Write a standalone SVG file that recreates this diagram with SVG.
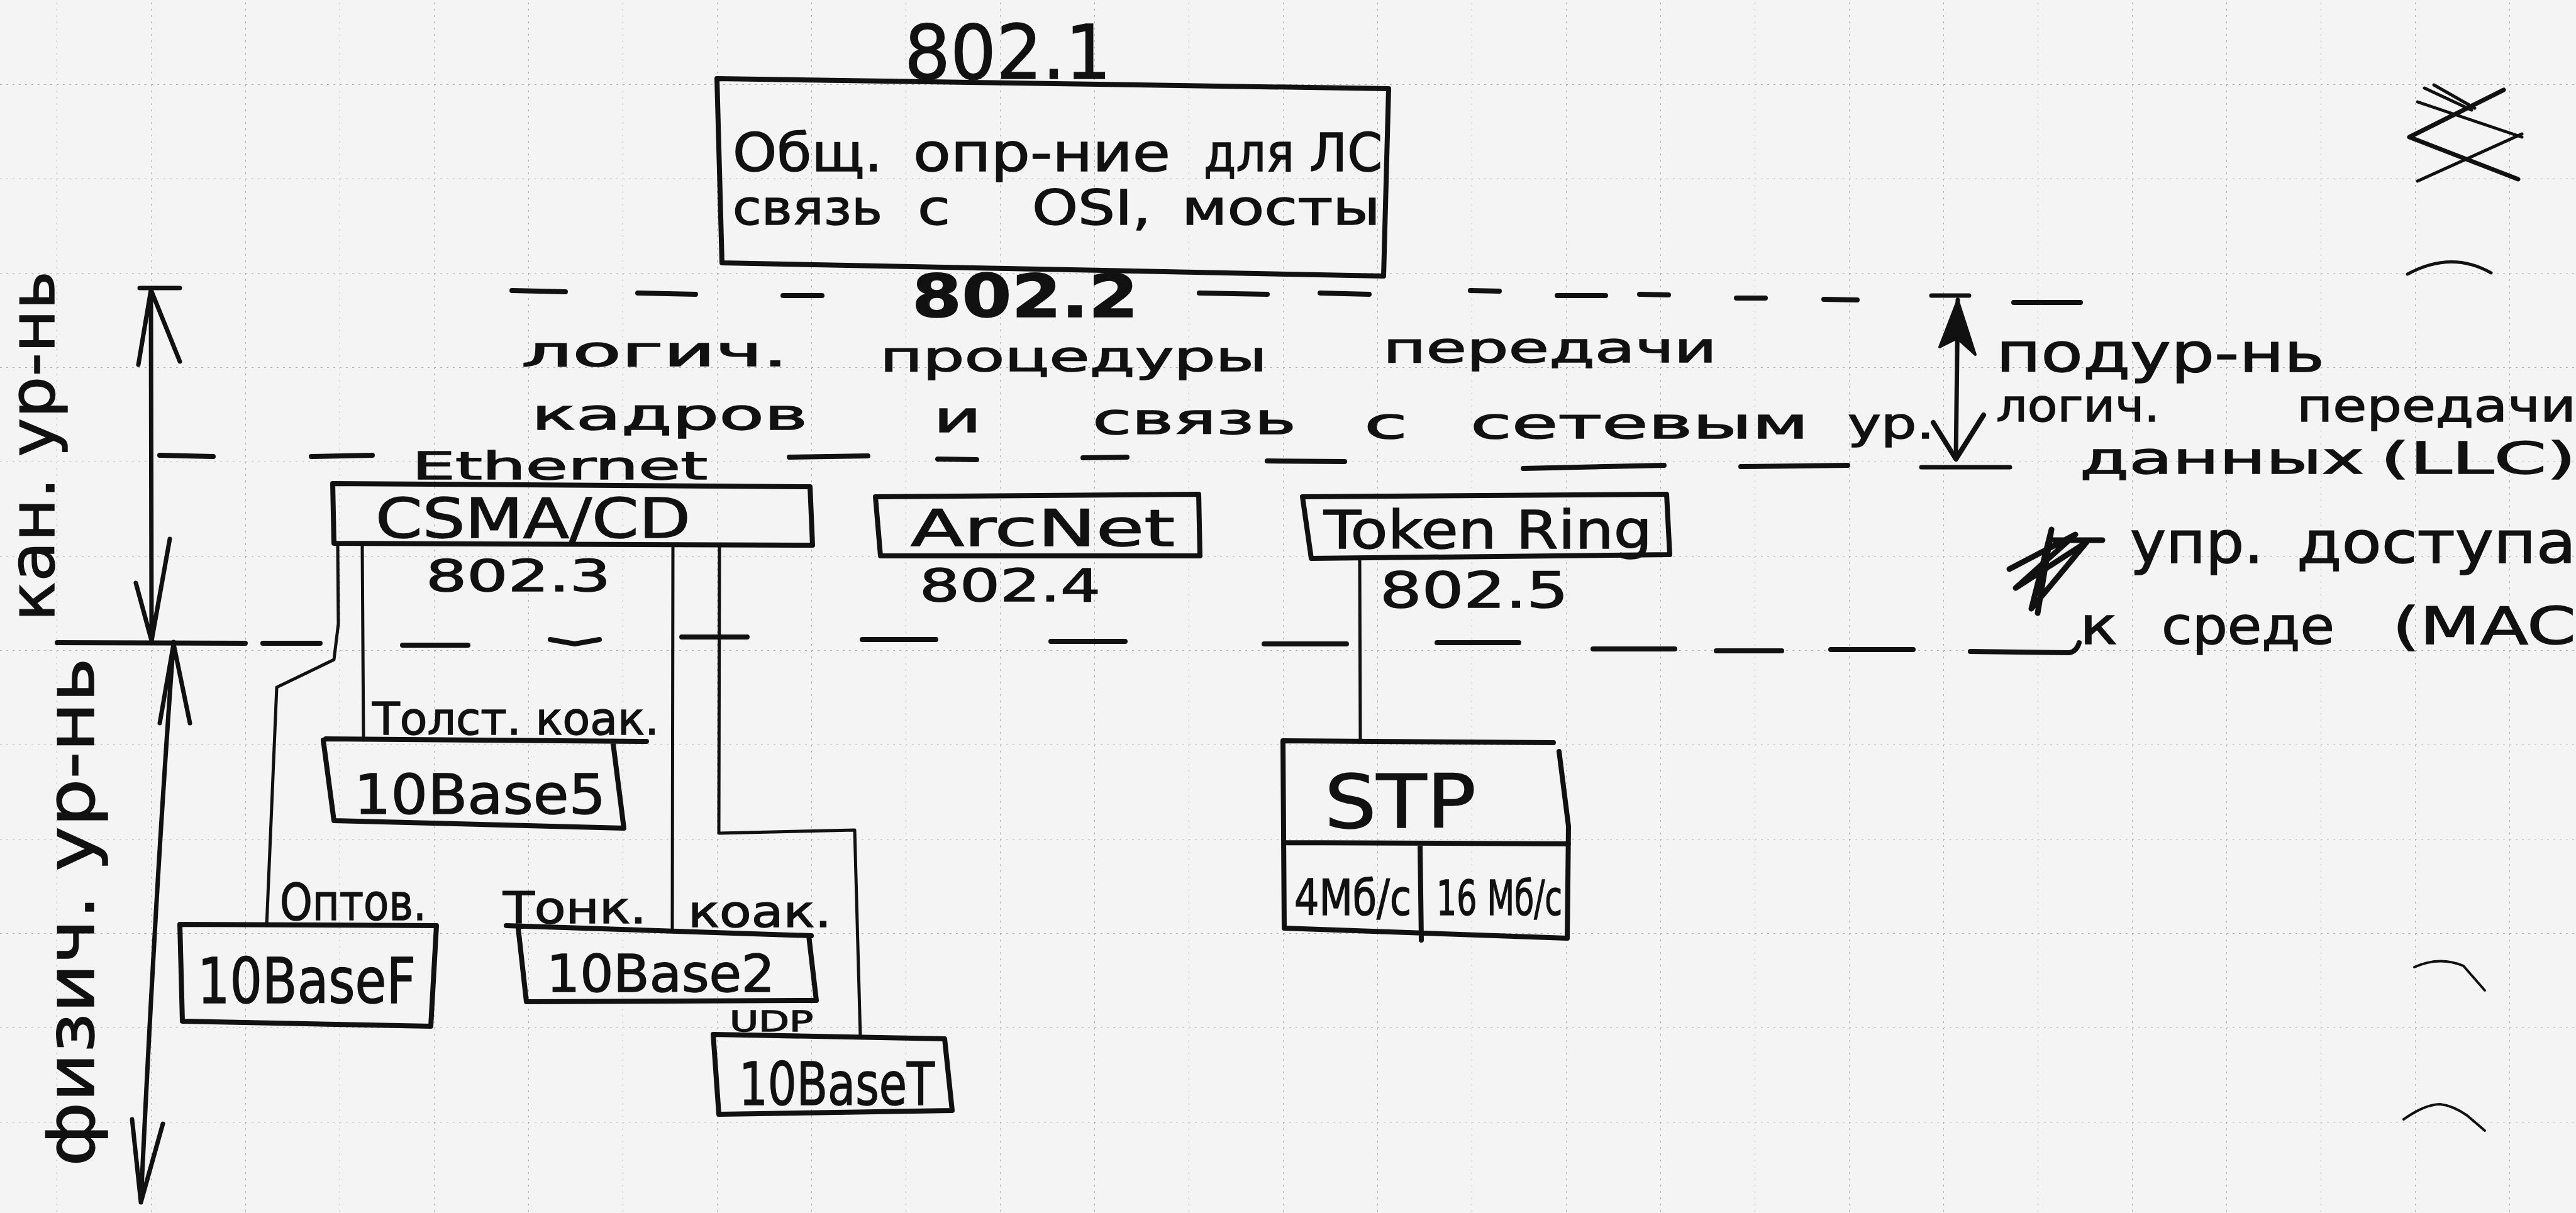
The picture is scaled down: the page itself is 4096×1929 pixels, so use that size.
<svg xmlns="http://www.w3.org/2000/svg" width="4096" height="1929" viewBox="0 0 4096 1929">
<defs>
<pattern id="grid" patternUnits="userSpaceOnUse" x="90" y="134" width="150" height="150">
<path d="M0,0 V150 M0,0 H150" fill="none" stroke="#adadad" stroke-width="2" stroke-dasharray="3 7"/>
</pattern>
</defs>
<style>
.ink{fill:none;stroke:#111;stroke-linecap:round;stroke-linejoin:round}
.box{stroke-width:8}
.ln{stroke-width:5}
.dash{stroke-width:8}
.arr{stroke-width:7}
.t{font-family:"DejaVu Sans","Liberation Sans",sans-serif;fill:#111;stroke:#111;stroke-width:1.5}
.b{font-weight:bold}
.solid{fill:#111;stroke:#111;stroke-width:4;stroke-linejoin:round}
</style>
<rect width="4096" height="1929" fill="#f4f4f4"/>
<rect width="4096" height="1929" fill="url(#grid)"/>

<g id="separators" class="ink dash">
<path d="M814,462 L899,464 M1014,466 L1106,468 M1245,470 L1307,470 M1907,466 L2015,468 M2099,466 L2177,468 M2338,462 L2384,463 M2476,470 L2553,470 M2607,468 L2653,469 M2761,474 L2807,474 M2900,476 L2953,477 M3202,481 L3308,481"/>
<path d="M254,724 L339,726 M495,726 L592,724 M1255,727 L1380,725 M1491,730 L1553,731 M1722,728 L1792,727 M2015,733 L2138,734 M2422,745 L2646,740 M2768,742 L2938,740"/>
<path d="M91,1022 L390,1023 M418,1023 L509,1023 M640,1026 L744,1026 M875,1017 L914,1024 L953,1017 M1084,1013 L1188,1013 M1371,1017 L1488,1017 M1671,1020 L1789,1020 M2010,1024 L2141,1024 M2285,1022 L2415,1022 M2533,1032 L2663,1032 M2729,1035 L2833,1035 M2911,1033 L3042,1033 M3133,1036 L3290,1038 Q3302,1036 3306,1022"/>
</g>

<g id="marks" class="ink">
<path class="arr" d="M3831,218 L3981,143 M3831,218 L4004,285"/>
<path stroke-width="5" d="M3844,162 L4010,218 M3844,288 L4010,213 M3855,140 L3930,175 M3870,135 L3935,172"/>
<path stroke-width="5" d="M3828,436 Q3898,398 3961,434"/>
<path stroke-width="4" d="M3839,1538 Q3879,1520 3917,1536 L3951,1575"/>
<path stroke-width="4" d="M3822,1780 Q3856,1756 3880,1756 Q3900,1758 3923,1774 L3951,1798"/>
<path stroke-width="9" d="M3195,905 L3300,850 L3205,935 L3318,862 L3230,968 L3262,842 L3240,975 M3266,859 L3343,859"/>
</g>

<g id="n8021">
<text class="t" x="1438" y="125" font-size="120" textLength="329" lengthAdjust="spacingAndGlyphs">802.1</text>
<path class="ink box" d="M1140,125 L2208,141 L2200,439 L1148,418 Z"/>
<text class="t" x="1165" y="272" font-size="84" textLength="238" lengthAdjust="spacingAndGlyphs">Общ.</text>
<text class="t" x="1452" y="272" font-size="84" textLength="409" lengthAdjust="spacingAndGlyphs">опр-ние</text>
<text class="t" x="1914" y="272" font-size="84" textLength="144" lengthAdjust="spacingAndGlyphs">для</text>
<text class="t" x="2082" y="272" font-size="84" textLength="116" lengthAdjust="spacingAndGlyphs">ЛС</text>
<text class="t" x="1165" y="357" font-size="76" textLength="238" lengthAdjust="spacingAndGlyphs">связь</text>
<text class="t" x="1459" y="357" font-size="76" textLength="52" lengthAdjust="spacingAndGlyphs">с</text>
<text class="t" x="1641" y="357" font-size="76" textLength="189" lengthAdjust="spacingAndGlyphs">OSI,</text>
<text class="t" x="1879" y="357" font-size="76" textLength="316" lengthAdjust="spacingAndGlyphs">мосты</text>
</g>

<g id="n8022">
<text class="t b" x="1450" y="504" font-size="95" textLength="360" lengthAdjust="spacingAndGlyphs">802.2</text>
<text class="t" x="829" y="582" font-size="66" textLength="424" lengthAdjust="spacingAndGlyphs">логич.</text>
<text class="t" x="1399" y="590" font-size="66" textLength="616" lengthAdjust="spacingAndGlyphs">процедуры</text>
<text class="t" x="2199" y="576" font-size="66" textLength="531" lengthAdjust="spacingAndGlyphs">передачи</text>
<text class="t" x="845" y="683" font-size="68" textLength="439" lengthAdjust="spacingAndGlyphs">кадров</text>
<text class="t" x="1484" y="687" font-size="68" textLength="77" lengthAdjust="spacingAndGlyphs">и</text>
<text class="t" x="1737" y="690" font-size="68" textLength="324" lengthAdjust="spacingAndGlyphs">связь</text>
<text class="t" x="2169" y="697" font-size="68" textLength="69" lengthAdjust="spacingAndGlyphs">с</text>
<text class="t" x="2338" y="697" font-size="68" textLength="538" lengthAdjust="spacingAndGlyphs">сетевым</text>
<text class="t" x="2938" y="697" font-size="68" textLength="138" lengthAdjust="spacingAndGlyphs">ур.</text>
</g>

<g id="layer-right">
<path class="ink arr" d="M3071,470 L3131,470 M3113,477 L3110,730 M3055,743 L3196,743"/>
<path class="solid" d="M3113,477 L3084,552 L3112,538 L3141,564 Z"/>
<path class="ink box" d="M3074,672 L3110,730 L3154,660"/>
<text class="t" x="3174" y="591" font-size="85" textLength="522" lengthAdjust="spacingAndGlyphs">подур-нь</text>
<text class="t" x="3174" y="670" font-size="72" textLength="260" lengthAdjust="spacingAndGlyphs">логич.</text>
<text class="t" x="3652" y="670" font-size="72" textLength="444" lengthAdjust="spacingAndGlyphs">передачи</text>
<text class="t" x="3307" y="753" font-size="70" textLength="452" lengthAdjust="spacingAndGlyphs">данных</text>
<text class="t" x="3785" y="753" font-size="70" textLength="311" lengthAdjust="spacingAndGlyphs">(LLC)</text>
<text class="t" x="3387" y="895" font-size="92" textLength="212" lengthAdjust="spacingAndGlyphs">упр.</text>
<text class="t" x="3652" y="895" font-size="92" textLength="444" lengthAdjust="spacingAndGlyphs">доступа</text>
<text class="t" x="3307" y="1024" font-size="82" textLength="60" lengthAdjust="spacingAndGlyphs">к</text>
<text class="t" x="3437" y="1024" font-size="82" textLength="275" lengthAdjust="spacingAndGlyphs">среде</text>
<text class="t" x="3804" y="1024" font-size="82" textLength="292" lengthAdjust="spacingAndGlyphs">(MAC</text>
</g>

<g id="layer-left">
<path class="ink arr" d="M222,458 L286,458 M240,461 L241,1019 M220,580 L240,461 L286,575 M216,927 L241,1019 L270,857"/>
<path class="ink arr" d="M276,1021 Q248,1400 224,1912 M254,1150 L276,1024 L302,1150 M210,1780 L224,1912 L259,1787"/>
<text class="t" transform="translate(86,710) rotate(-90)" x="-278" y="0" font-size="100" textLength="557" lengthAdjust="spacingAndGlyphs">кан. ур-нь</text>
<text class="t" transform="translate(149,1450) rotate(-90)" x="-405" y="0" font-size="105" textLength="809" lengthAdjust="spacingAndGlyphs">физич. ур-нь</text>
</g>

<g id="csma">
<text class="t" x="655" y="762" font-size="60" textLength="470" lengthAdjust="spacingAndGlyphs">Ethernet</text>
<path class="ink box" d="M529,769 L1288,774 L1292,867 L531,864 Z"/>
<text class="t" x="597" y="855" font-size="88" textLength="501" lengthAdjust="spacingAndGlyphs">CSMA/CD</text>
<text class="t" x="677" y="940" font-size="70" textLength="294" lengthAdjust="spacingAndGlyphs">802.3</text>
</g>

<g id="arcnet">
<path class="ink box" d="M1392,790 L1906,786 L1908,884 L1400,884 Z"/>
<text class="t" x="1448" y="868" font-size="80" textLength="420" lengthAdjust="spacingAndGlyphs">ArcNet</text>
<text class="t" x="1462" y="956" font-size="72" textLength="288" lengthAdjust="spacingAndGlyphs">802.4</text>
</g>

<g id="tokenring">
<path class="ink box" d="M2071,790 L2650,786 L2655,882 L2085,888 Z"/>
<text class="t" x="2105" y="872" font-size="84" textLength="522" lengthAdjust="spacingAndGlyphs">Token Ring</text>
<text class="t" x="2194" y="966" font-size="78" textLength="300" lengthAdjust="spacingAndGlyphs">802.5</text>
</g>

<g id="stp">
<path class="ink box" d="M2470,1181 L2040,1178 L2042,1476 L2492,1492 L2494,1314 L2479,1195 M2042,1340 L2494,1342 M2258,1343 L2260,1495"/>
<text class="t" x="2106" y="1316" font-size="118" textLength="241" lengthAdjust="spacingAndGlyphs">STP</text>
<text class="t" x="2058" y="1455" font-size="78" textLength="186" lengthAdjust="spacingAndGlyphs">4Мб/с</text>
<text class="t" x="2284" y="1455" font-size="76" textLength="200" lengthAdjust="spacingAndGlyphs">16 Мб/с</text>
</g>

<g id="b10base5">
<text class="t" x="592" y="1168" font-size="72" textLength="456" lengthAdjust="spacingAndGlyphs">Толст. коак.</text>
<path class="ink box" d="M518,1175 L1028,1179 M514,1177 L531,1305 L992,1317 L975,1183"/>
<text class="t" x="563" y="1294" font-size="88" textLength="400" lengthAdjust="spacingAndGlyphs">10Base5</text>
</g>

<g id="b10basef">
<text class="t" x="445" y="1463" font-size="80" textLength="233" lengthAdjust="spacingAndGlyphs">Оптов.</text>
<path class="ink box" d="M286,1470 L694,1472 L685,1632 L290,1624 Z"/>
<text class="t" x="314" y="1595" font-size="100" textLength="347" lengthAdjust="spacingAndGlyphs">10BaseF</text>
</g>

<g id="b10base2">
<text class="t" x="800" y="1468" font-size="70" textLength="228" lengthAdjust="spacingAndGlyphs">Тонк.</text>
<text class="t" x="1094" y="1474" font-size="70" textLength="228" lengthAdjust="spacingAndGlyphs">коак.</text>
<path class="ink box" d="M805,1472 L1290,1488 M824,1476 L837,1593 L1298,1591 L1286,1488"/>
<text class="t" x="869" y="1577" font-size="82" textLength="363" lengthAdjust="spacingAndGlyphs">10Base2</text>
</g>

<g id="b10baset">
<text class="t" x="1160" y="1640" font-size="44" textLength="133" lengthAdjust="spacingAndGlyphs">UDP</text>
<path class="ink box" d="M1134,1645 L1502,1652 L1514,1766 L1143,1772 Z"/>
<text class="t" x="1175" y="1757" font-size="95" textLength="311" lengthAdjust="spacingAndGlyphs">10BaseT</text>
</g>

<g id="connectors" class="ink ln">
<path d="M537,866 L538,992 L531,1049 L440,1093 L424,1472"/>
<path d="M576,866 L578,1177"/>
<path d="M1070,866 L1069,1481"/>
<path d="M1144,866 L1143,1325 L1359,1320 L1368,1649"/>
<path d="M2162,888 L2163,1179"/>
</g>
</svg>
